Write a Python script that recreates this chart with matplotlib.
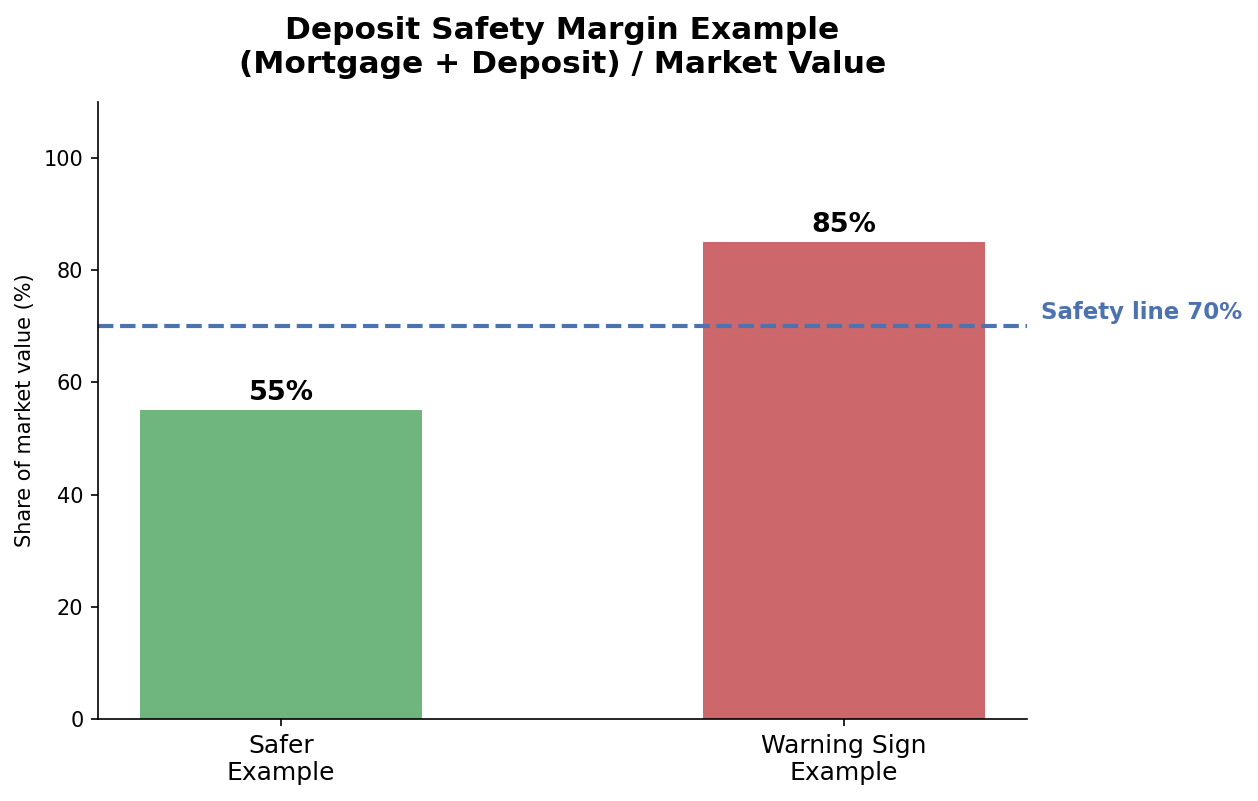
import matplotlib
matplotlib.use('Agg')
import matplotlib.pyplot as plt

# values
categories = ['Safer\nExample', 'Warning Sign\nExample']
shares = [55, 85]
bar_colors = ['#55a868', '#c44e52']
safety_line = 70

fig = plt.figure(figsize=(1258 / 150, 801 / 150), dpi=150)
ax = fig.add_axes([0.0779, 0.1024, 0.8164 - 0.0779, 0.8727 - 0.1024])

x = range(len(categories))
ax.bar(x, shares, width=0.5, color=bar_colors, alpha=0.85)

# value labels on top of the bars
for xi, v in zip(x, shares):
    ax.text(xi, v + 0.8, f'{v}%', ha='center', va='bottom',
            fontsize=13, fontweight='bold')

# safety threshold
ax.axhline(safety_line, color='#4c72b0', linestyle='--', linewidth=2)
ax.text(1.35, safety_line + 2.5, f'Safety line {safety_line}%', ha='left', va='center',
        fontsize=11, fontweight='bold', color='#4c72b0')

ax.set_xticks(list(x))
ax.set_xticklabels(categories, fontsize=12)
ax.set_ylim(0, 110)
ax.set_yticks([0, 20, 40, 60, 80, 100])
ax.set_ylabel('Share of market value (%)')
ax.set_title('Deposit Safety Margin Example\n(Mortgage + Deposit) / Market Value',
             fontsize=15, fontweight='bold', pad=14)
ax.spines['top'].set_visible(False)
ax.spines['right'].set_visible(False)

fig.savefig('out.png', dpi=150)
